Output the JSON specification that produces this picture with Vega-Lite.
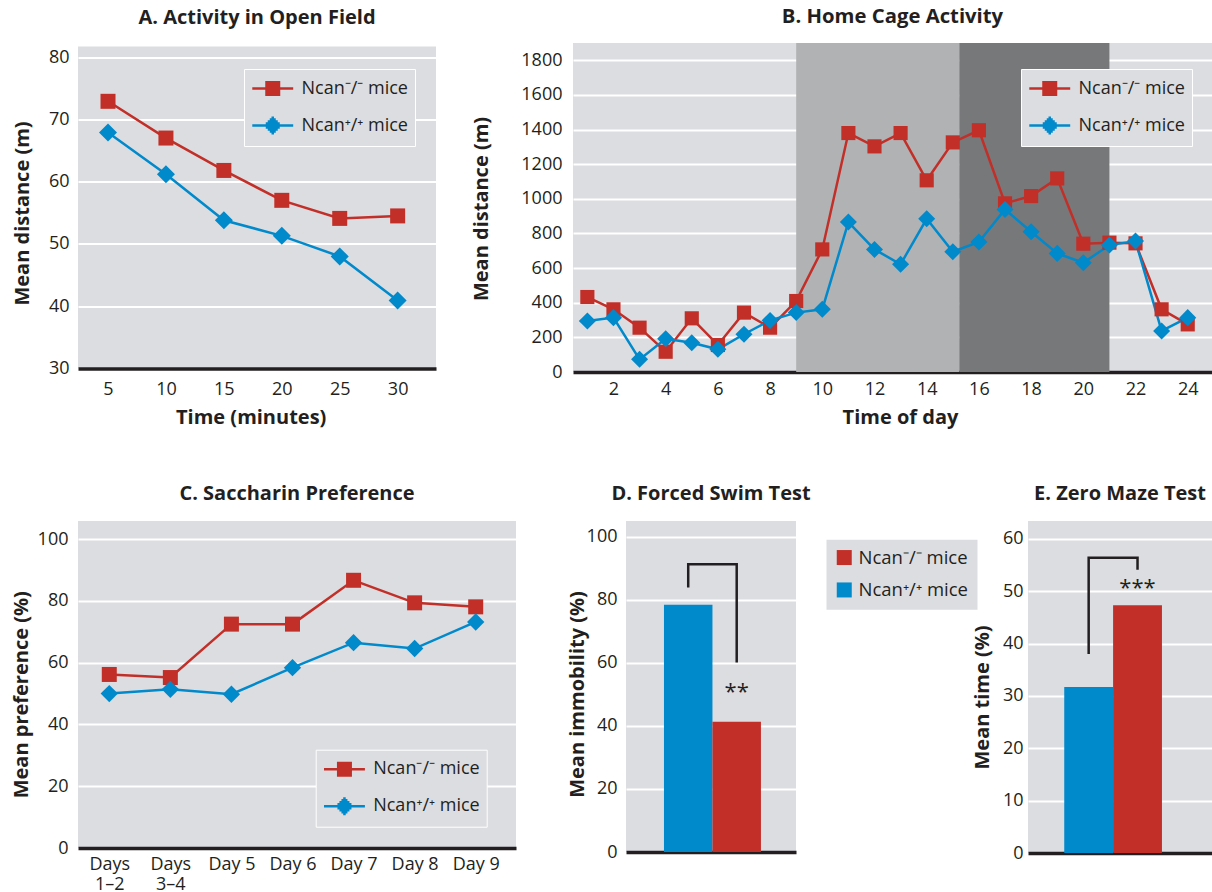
{
  "$schema": "https://vega.github.io/schema/vega-lite/v6.json",
  "background": "white",
  "padding": {"left": 11, "top": 6, "right": 0, "bottom": 0},
  "config": {
    "font": "Open Sans",
    "view": {"fill": "#dcdde0", "stroke": null},
    "axis": {"labelFont": "Open Sans", "labelFontSize": 18, "labelColor": "#231f20", "titleFont": "Open Sans", "titleFontSize": 20, "titleFontWeight": "bold", "titleColor": "#231f20", "ticks": false, "labelFlush": false},
    "axisX": {"domain": true, "domainColor": "#231f20", "domainWidth": 3.5, "grid": false, "labelPadding": 10, "labelAngle": 0},
    "axisY": {"domain": false, "grid": true, "gridColor": "#ffffff", "gridWidth": 2, "labelPadding": 9, "format": "d"},
    "title": {"font": "Open Sans", "fontSize": 20, "fontWeight": "bold", "color": "#231f20", "frame": "group", "anchor": "middle"},
    "legend": {"labelFont": "Open Sans", "labelFontSize": 18, "labelColor": "#231f20", "fillColor": "#dcdde0", "strokeColor": "#ffffff", "padding": 7, "symbolSize": 484, "symbolOffset": 9.25, "labelOffset": 16.25, "rowPadding": 12, "symbolStrokeWidth": 2.5}
  },
  "bounds": "flush",
  "spacing": 478,
  "resolve": {"scale": {"color": "independent", "shape": "independent"}, "legend": {"color": "independent", "shape": "independent"}},
  "vconcat": [
    {
      "bounds": "flush",
      "spacing": 137,
      "center": true,
      "resolve": {"scale": {"color": "independent", "shape": "independent"}, "legend": {"color": "independent", "shape": "independent"}},
      "hconcat": [
        {
          "width": 358,
          "height": 322,
          "title": {"text": "A. Activity in Open Field", "offset": 19},
          "data": {"values": [
            {"time": 5, "value": 72.9, "group": "Ncan⁻/⁻ mice"},
            {"time": 10, "value": 67.0, "group": "Ncan⁻/⁻ mice"},
            {"time": 15, "value": 61.8, "group": "Ncan⁻/⁻ mice"},
            {"time": 20, "value": 57.0, "group": "Ncan⁻/⁻ mice"},
            {"time": 25, "value": 54.1, "group": "Ncan⁻/⁻ mice"},
            {"time": 30, "value": 54.5, "group": "Ncan⁻/⁻ mice"},
            {"time": 5, "value": 67.9, "group": "Ncan⁺/⁺ mice"},
            {"time": 10, "value": 61.2, "group": "Ncan⁺/⁺ mice"},
            {"time": 15, "value": 53.8, "group": "Ncan⁺/⁺ mice"},
            {"time": 20, "value": 51.3, "group": "Ncan⁺/⁺ mice"},
            {"time": 25, "value": 48.0, "group": "Ncan⁺/⁺ mice"},
            {"time": 30, "value": 40.9, "group": "Ncan⁺/⁺ mice"}
          ]},
          "encoding": {
            "x": {"field": "time", "type": "quantitative", "scale": {"domain": [2.41, 33.31], "nice": false, "zero": false}, "axis": {"values": [5, 10, 15, 20, 25, 30], "title": "Time (minutes)", "titleX": 172.7, "titleY": 49, "titleBaseline": "middle", "labelPadding": 12}},
            "y": {"field": "value", "type": "quantitative", "scale": {"domain": [30, 81.7], "nice": false, "zero": false}, "axis": {"values": [30, 40, 50, 60, 70, 80], "title": "Mean distance (m)", "titleX": -56, "titleY": 166.5, "titleBaseline": "middle", "titleAlign": "center"}}
          },
          "layer": [
            {"mark": {"type": "line", "strokeWidth": 2.5},
             "encoding": {"color": {"field": "group", "type": "nominal", "scale": {"domain": ["Ncan⁻/⁻ mice", "Ncan⁺/⁺ mice"], "range": ["#c22f28", "#0089cb"]}}}},
            {"mark": {"type": "point", "filled": true, "opacity": 1},
             "encoding": {
               "color": {"field": "group", "type": "nominal", "scale": {"domain": ["Ncan⁻/⁻ mice", "Ncan⁺/⁺ mice"], "range": ["#c22f28", "#0089cb"]}},
               "shape": {"condition": {"test": "datum.group === 'Ncan⁻/⁻ mice'", "value": "square"}, "value": "diamond"},
               "size": {"condition": {"test": "datum.group === 'Ncan⁻/⁻ mice'", "value": 225}, "value": 324}
             }},
            {"transform": [{"filter": "false"}],
             "mark": {"type": "point", "filled": false, "strokeWidth": 2.5},
             "encoding": {
               "color": {"field": "group", "type": "nominal", "scale": {"domain": ["Ncan⁻/⁻ mice", "Ncan⁺/⁺ mice"], "range": ["#c22f28", "#0089cb"]},
                 "legend": {"orient": "none", "legendX": 166, "legendY": 22.5, "title": null, "symbolOpacity": 1}},
               "shape": {"field": "group", "type": "nominal", "scale": {"domain": ["Ncan⁻/⁻ mice", "Ncan⁺/⁺ mice"], "range": ["M-1.86,0H1.86M-0.682,-0.568H0.682M-0.682,-0.379H0.682M-0.682,-0.189H0.682M-0.682,0.189H0.682M-0.682,0.379H0.682M-0.682,0.568H0.682", "M-1.86,0H1.86M-0.818,0H0.818M-0.636,-0.182H0.636M-0.636,0.182H0.636M-0.455,-0.364H0.455M-0.455,0.364H0.455M-0.273,-0.545H0.273M-0.273,0.545H0.273M-0.114,-0.705H0.114M-0.114,0.705H0.114"]},
                 "legend": {"orient": "none", "legendX": 166, "legendY": 22.5, "title": null, "symbolOpacity": 1}}
             }}
          ]
        },
        {
          "width": 639,
          "height": 329,
          "title": {"text": "B. Home Cage Activity", "offset": 16, "fontSize": 20.3},
          "layer": [
            {
              "data": {"values": [
                {"start": 9, "end": 15.25, "shade": "light"},
                {"start": 15.25, "end": 21, "shade": "dark"}
              ]},
              "mark": {"type": "rect"},
              "encoding": {
                "x": {"field": "start", "type": "quantitative", "scale": {"domain": [0.45, 24.93], "nice": false, "zero": false}, "axis": {"values": [2, 4, 6, 8, 10, 12, 14, 16, 18, 20, 22, 24], "title": "Time of day", "titleX": 327, "titleY": 45.7, "titleBaseline": "middle", "labelPadding": 8}},
                "x2": {"field": "end"},
                "fill": {"condition": {"test": "datum.shade === 'dark'", "value": "#77787a"}, "value": "#b1b2b4"}
              }
            },
            {
              "data": {"values": [
                {"hour": 1, "value": 433, "group": "Ncan⁻/⁻ mice"},
                {"hour": 2, "value": 362, "group": "Ncan⁻/⁻ mice"},
                {"hour": 3, "value": 256, "group": "Ncan⁻/⁻ mice"},
                {"hour": 4, "value": 117, "group": "Ncan⁻/⁻ mice"},
                {"hour": 5, "value": 310, "group": "Ncan⁻/⁻ mice"},
                {"hour": 6, "value": 156, "group": "Ncan⁻/⁻ mice"},
                {"hour": 7, "value": 343, "group": "Ncan⁻/⁻ mice"},
                {"hour": 8, "value": 256, "group": "Ncan⁻/⁻ mice"},
                {"hour": 9, "value": 410, "group": "Ncan⁻/⁻ mice"},
                {"hour": 10, "value": 708, "group": "Ncan⁻/⁻ mice"},
                {"hour": 11, "value": 1380, "group": "Ncan⁻/⁻ mice"},
                {"hour": 12, "value": 1303, "group": "Ncan⁻/⁻ mice"},
                {"hour": 13, "value": 1380, "group": "Ncan⁻/⁻ mice"},
                {"hour": 14, "value": 1107, "group": "Ncan⁻/⁻ mice"},
                {"hour": 15, "value": 1326, "group": "Ncan⁻/⁻ mice"},
                {"hour": 16, "value": 1396, "group": "Ncan⁻/⁻ mice"},
                {"hour": 17, "value": 974, "group": "Ncan⁻/⁻ mice"},
                {"hour": 18, "value": 1016, "group": "Ncan⁻/⁻ mice"},
                {"hour": 19, "value": 1118, "group": "Ncan⁻/⁻ mice"},
                {"hour": 20, "value": 741, "group": "Ncan⁻/⁻ mice"},
                {"hour": 21, "value": 747, "group": "Ncan⁻/⁻ mice"},
                {"hour": 22, "value": 743, "group": "Ncan⁻/⁻ mice"},
                {"hour": 23, "value": 362, "group": "Ncan⁻/⁻ mice"},
                {"hour": 24, "value": 275, "group": "Ncan⁻/⁻ mice"},
                {"hour": 1, "value": 295, "group": "Ncan⁺/⁺ mice"},
                {"hour": 2, "value": 314, "group": "Ncan⁺/⁺ mice"},
                {"hour": 3, "value": 73, "group": "Ncan⁺/⁺ mice"},
                {"hour": 4, "value": 192, "group": "Ncan⁺/⁺ mice"},
                {"hour": 5, "value": 169, "group": "Ncan⁺/⁺ mice"},
                {"hour": 6, "value": 131, "group": "Ncan⁺/⁺ mice"},
                {"hour": 7, "value": 218, "group": "Ncan⁺/⁺ mice"},
                {"hour": 8, "value": 298, "group": "Ncan⁺/⁺ mice"},
                {"hour": 9, "value": 343, "group": "Ncan⁺/⁺ mice"},
                {"hour": 10, "value": 362, "group": "Ncan⁺/⁺ mice"},
                {"hour": 11, "value": 866, "group": "Ncan⁺/⁺ mice"},
                {"hour": 12, "value": 708, "group": "Ncan⁺/⁺ mice"},
                {"hour": 13, "value": 622, "group": "Ncan⁺/⁺ mice"},
                {"hour": 14, "value": 885, "group": "Ncan⁺/⁺ mice"},
                {"hour": 15, "value": 695, "group": "Ncan⁺/⁺ mice"},
                {"hour": 16, "value": 751, "group": "Ncan⁺/⁺ mice"},
                {"hour": 17, "value": 939, "group": "Ncan⁺/⁺ mice"},
                {"hour": 18, "value": 810, "group": "Ncan⁺/⁺ mice"},
                {"hour": 19, "value": 685, "group": "Ncan⁺/⁺ mice"},
                {"hour": 20, "value": 631, "group": "Ncan⁺/⁺ mice"},
                {"hour": 21, "value": 733, "group": "Ncan⁺/⁺ mice"},
                {"hour": 22, "value": 756, "group": "Ncan⁺/⁺ mice"},
                {"hour": 23, "value": 237, "group": "Ncan⁺/⁺ mice"},
                {"hour": 24, "value": 314, "group": "Ncan⁺/⁺ mice"}
              ]},
              "encoding": {
                "x": {"field": "hour", "type": "quantitative", "scale": {"domain": [0.45, 24.93], "nice": false, "zero": false}, "axis": {"values": [2, 4, 6, 8, 10, 12, 14, 16, 18, 20, 22, 24], "title": "Time of day", "titleX": 327, "titleY": 45.7, "titleBaseline": "middle", "labelPadding": 8}},
                "y": {"field": "value", "type": "quantitative", "scale": {"domain": [0, 1900], "nice": false}, "axis": {"values": [0, 200, 400, 600, 800, 1000, 1200, 1400, 1600, 1800], "title": "Mean distance (m)", "titleX": -91.3, "titleY": 165.5, "titleBaseline": "middle", "titleAlign": "center", "labelPadding": 11}}
              },
              "layer": [
                {"mark": {"type": "line", "strokeWidth": 2.5},
                 "encoding": {"color": {"field": "group", "type": "nominal", "scale": {"domain": ["Ncan⁻/⁻ mice", "Ncan⁺/⁺ mice"], "range": ["#c22f28", "#0089cb"]}}}},
                {"mark": {"type": "point", "filled": true, "opacity": 1},
                 "encoding": {
                   "color": {"field": "group", "type": "nominal", "scale": {"domain": ["Ncan⁻/⁻ mice", "Ncan⁺/⁺ mice"], "range": ["#c22f28", "#0089cb"]}},
                   "shape": {"condition": {"test": "datum.group === 'Ncan⁻/⁻ mice'", "value": "square"}, "value": "diamond"},
                   "size": {"condition": {"test": "datum.group === 'Ncan⁻/⁻ mice'", "value": 200}, "value": 290}
                 }},
                {"transform": [{"filter": "false"}],
                 "mark": {"type": "point", "filled": false, "strokeWidth": 2.5},
                 "encoding": {
                   "color": {"field": "group", "type": "nominal", "scale": {"domain": ["Ncan⁻/⁻ mice", "Ncan⁺/⁺ mice"], "range": ["#c22f28", "#0089cb"]},
                     "legend": {"orient": "none", "legendX": 448, "legendY": 26, "title": null, "symbolOpacity": 1}},
                   "shape": {"field": "group", "type": "nominal", "scale": {"domain": ["Ncan⁻/⁻ mice", "Ncan⁺/⁺ mice"], "range": ["M-1.86,0H1.86M-0.682,-0.568H0.682M-0.682,-0.379H0.682M-0.682,-0.189H0.682M-0.682,0.189H0.682M-0.682,0.379H0.682M-0.682,0.568H0.682", "M-1.86,0H1.86M-0.818,0H0.818M-0.636,-0.182H0.636M-0.636,0.182H0.636M-0.455,-0.364H0.455M-0.455,0.364H0.455M-0.273,-0.545H0.273M-0.273,0.545H0.273M-0.114,-0.705H0.114M-0.114,0.705H0.114"]},
                     "legend": {"orient": "none", "legendX": 448, "legendY": 26, "title": null, "symbolOpacity": 1}}
                 }}
              ]
            }
          ]
        }
      ]
    },
    {
      "bounds": "flush",
      "spacing": 110,
      "resolve": {"scale": {"color": "independent", "shape": "independent"}, "legend": {"color": "independent", "shape": "independent"}},
      "hconcat": [
        {
          "width": 438,
          "height": 327,
          "title": {"text": "C. Saccharin Preference", "offset": 17.5},
          "data": {"values": [
            {"day": "Days 1–2", "value": 56.2, "group": "Ncan⁻/⁻ mice"},
            {"day": "Days 3–4", "value": 55.2, "group": "Ncan⁻/⁻ mice"},
            {"day": "Day 5", "value": 72.5, "group": "Ncan⁻/⁻ mice"},
            {"day": "Day 6", "value": 72.5, "group": "Ncan⁻/⁻ mice"},
            {"day": "Day 7", "value": 86.7, "group": "Ncan⁻/⁻ mice"},
            {"day": "Day 8", "value": 79.4, "group": "Ncan⁻/⁻ mice"},
            {"day": "Day 9", "value": 78.1, "group": "Ncan⁻/⁻ mice"},
            {"day": "Days 1–2", "value": 50.0, "group": "Ncan⁺/⁺ mice"},
            {"day": "Days 3–4", "value": 51.4, "group": "Ncan⁺/⁺ mice"},
            {"day": "Day 5", "value": 49.8, "group": "Ncan⁺/⁺ mice"},
            {"day": "Day 6", "value": 58.4, "group": "Ncan⁺/⁺ mice"},
            {"day": "Day 7", "value": 66.5, "group": "Ncan⁺/⁺ mice"},
            {"day": "Day 8", "value": 64.6, "group": "Ncan⁺/⁺ mice"},
            {"day": "Day 9", "value": 73.2, "group": "Ncan⁺/⁺ mice"}
          ]},
          "encoding": {
            "x": {"field": "day", "type": "ordinal", "sort": null, "scale": {"type": "point", "domain": ["Days 1–2", "Days 3–4", "Day 5", "Day 6", "Day 7", "Day 8", "Day 9"], "padding": 0.586, "align": 0.437}, "axis": {"title": null, "labelExpr": "indexof(datum.label, 'Days') === 0 ? ['Days', substring(datum.label, 5)] : datum.label", "labelLineHeight": 20, "labelPadding": 7}},
            "y": {"field": "value", "type": "quantitative", "scale": {"domain": [0, 105.9], "nice": false}, "axis": {"values": [0, 20, 40, 60, 80, 100], "title": "Mean preference (%)", "titleX": -57, "titleY": 173.3, "titleBaseline": "middle", "titleAlign": "center", "labelPadding": 10}}
          },
          "layer": [
            {"mark": {"type": "line", "strokeWidth": 2.5},
             "encoding": {"color": {"field": "group", "type": "nominal", "scale": {"domain": ["Ncan⁻/⁻ mice", "Ncan⁺/⁺ mice"], "range": ["#c22f28", "#0089cb"]}}}},
            {"mark": {"type": "point", "filled": true, "opacity": 1},
             "encoding": {
               "color": {"field": "group", "type": "nominal", "scale": {"domain": ["Ncan⁻/⁻ mice", "Ncan⁺/⁺ mice"], "range": ["#c22f28", "#0089cb"]}},
               "shape": {"condition": {"test": "datum.group === 'Ncan⁻/⁻ mice'", "value": "square"}, "value": "diamond"},
               "size": {"condition": {"test": "datum.group === 'Ncan⁻/⁻ mice'", "value": 225}, "value": 300}
             }},
            {"transform": [{"filter": "false"}],
             "mark": {"type": "point", "filled": false, "strokeWidth": 2.5},
             "encoding": {
               "color": {"field": "group", "type": "nominal", "scale": {"domain": ["Ncan⁻/⁻ mice", "Ncan⁺/⁺ mice"], "range": ["#c22f28", "#0089cb"]},
                 "legend": {"orient": "none", "legendX": 237.7, "legendY": 228.7, "title": null, "symbolOpacity": 1}},
               "shape": {"field": "group", "type": "nominal", "scale": {"domain": ["Ncan⁻/⁻ mice", "Ncan⁺/⁺ mice"], "range": ["M-1.86,0H1.86M-0.682,-0.568H0.682M-0.682,-0.379H0.682M-0.682,-0.189H0.682M-0.682,0.189H0.682M-0.682,0.379H0.682M-0.682,0.568H0.682", "M-1.86,0H1.86M-0.818,0H0.818M-0.636,-0.182H0.636M-0.636,0.182H0.636M-0.455,-0.364H0.455M-0.455,0.364H0.455M-0.273,-0.545H0.273M-0.273,0.545H0.273M-0.114,-0.705H0.114M-0.114,0.705H0.114"]},
                 "legend": {"orient": "none", "legendX": 237.7, "legendY": 228.7, "title": null, "symbolOpacity": 1}}
             }}
          ]
        },
        {
          "width": 170,
          "height": 331,
          "title": {"text": "D. Forced Swim Test", "offset": 17.5},
          "encoding": {
            "x": {"field": "group", "type": "nominal", "sort": null, "scale": {"type": "band", "domain": ["Ncan⁺/⁺ mice", "Ncan⁻/⁻ mice"], "paddingInner": 0, "paddingOuter": 0.753, "align": 0.52}, "axis": {"labels": false, "title": null}},
            "y": {"field": "value", "type": "quantitative", "scale": {"domain": [0, 105], "nice": false}, "axis": {"values": [0, 20, 40, 60, 80, 100], "title": "Mean immobility (%)", "titleX": -48.5, "titleY": 173, "titleBaseline": "middle", "titleAlign": "center"}}
          },
          "layer": [
            {
              "data": {"values": [
                {"group": "Ncan⁺/⁺ mice", "value": 78.4},
                {"group": "Ncan⁻/⁻ mice", "value": 41.3}
              ]},
              "mark": {"type": "bar"},
              "encoding": {
                "color": {"field": "group", "type": "nominal", "scale": {"domain": ["Ncan⁻/⁻ mice", "Ncan⁺/⁺ mice"], "range": ["#c22f28", "#0089cb"]},
                  "legend": {"orient": "none", "legendX": 200, "legendY": 18.3, "title": null, "symbolType": "square", "symbolSize": 225, "symbolStrokeWidth": 0, "symbolOffset": 0, "labelOffset": 5, "labelFontSize": 18.5, "padding": 9, "rowPadding": 13.4, "strokeColor": "transparent"}}
              }
            },
            {
              "data": {"values": [
                {"group": "Ncan⁺/⁺ mice", "value": 83.9, "step": 1},
                {"group": "Ncan⁺/⁺ mice", "value": 91.3, "step": 2},
                {"group": "Ncan⁻/⁻ mice", "value": 91.3, "step": 3},
                {"group": "Ncan⁻/⁻ mice", "value": 60.1, "step": 4}
              ]},
              "mark": {"type": "line", "color": "#231f20", "strokeWidth": 2.5, "strokeJoin": "miter", "strokeCap": "butt"},
              "encoding": {"order": {"field": "step", "type": "quantitative"}}
            },
            {
              "data": {"values": [
                {"group": "Ncan⁻/⁻ mice", "value": 52.2, "label": "**"}
              ]},
              "mark": {"type": "text", "fontSize": 22, "color": "#231f20", "baseline": "middle", "dy": 5},
              "encoding": {"text": {"field": "label"}}
            }
          ]
        },
        {
          "width": 12,
          "height": 10,
          "view": {"fill": "transparent"},
          "data": {"values": [{"group": "none"}]},
          "mark": {"type": "text", "opacity": 0},
          "encoding": {"text": {"field": "group"}}
        },
        {
          "width": 184,
          "height": 332,
          "title": {"text": "E. Zero Maze Test", "offset": 17.5},
          "encoding": {
            "x": {"field": "group", "type": "nominal", "sort": null, "scale": {"type": "band", "domain": ["Ncan⁺/⁺ mice", "Ncan⁻/⁻ mice"], "paddingInner": 0, "paddingOuter": 0.883, "align": 0.42}, "axis": {"labels": false, "title": null}},
            "y": {"field": "value", "type": "quantitative", "scale": {"domain": [0, 63.4], "nice": false}, "axis": {"values": [0, 10, 20, 30, 40, 50, 60], "title": "Mean time (%)", "titleX": -45.7, "titleY": 176, "titleBaseline": "middle", "titleAlign": "center", "labelPadding": 5}}
          },
          "layer": [
            {
              "data": {"values": [
                {"group": "Ncan⁺/⁺ mice", "value": 31.7},
                {"group": "Ncan⁻/⁻ mice", "value": 47.3}
              ]},
              "mark": {"type": "bar"},
              "encoding": {
                "color": {"field": "group", "type": "nominal", "scale": {"domain": ["Ncan⁻/⁻ mice", "Ncan⁺/⁺ mice"], "range": ["#c22f28", "#0089cb"]}, "legend": null}
              }
            },
            {
              "data": {"values": [
                {"group": "Ncan⁺/⁺ mice", "value": 38.0, "step": 1},
                {"group": "Ncan⁺/⁺ mice", "value": 56.4, "step": 2},
                {"group": "Ncan⁻/⁻ mice", "value": 56.4, "step": 3},
                {"group": "Ncan⁻/⁻ mice", "value": 54.1, "step": 4}
              ]},
              "mark": {"type": "line", "color": "#231f20", "strokeWidth": 2.5, "strokeJoin": "miter", "strokeCap": "butt"},
              "encoding": {"order": {"field": "step", "type": "quantitative"}}
            },
            {
              "data": {"values": [
                {"group": "Ncan⁻/⁻ mice", "value": 51.5, "label": "***"}
              ]},
              "mark": {"type": "text", "fontSize": 22, "color": "#231f20", "baseline": "middle", "dy": 5},
              "encoding": {"text": {"field": "label"}}
            }
          ]
        }
      ]
    }
  ]
}
